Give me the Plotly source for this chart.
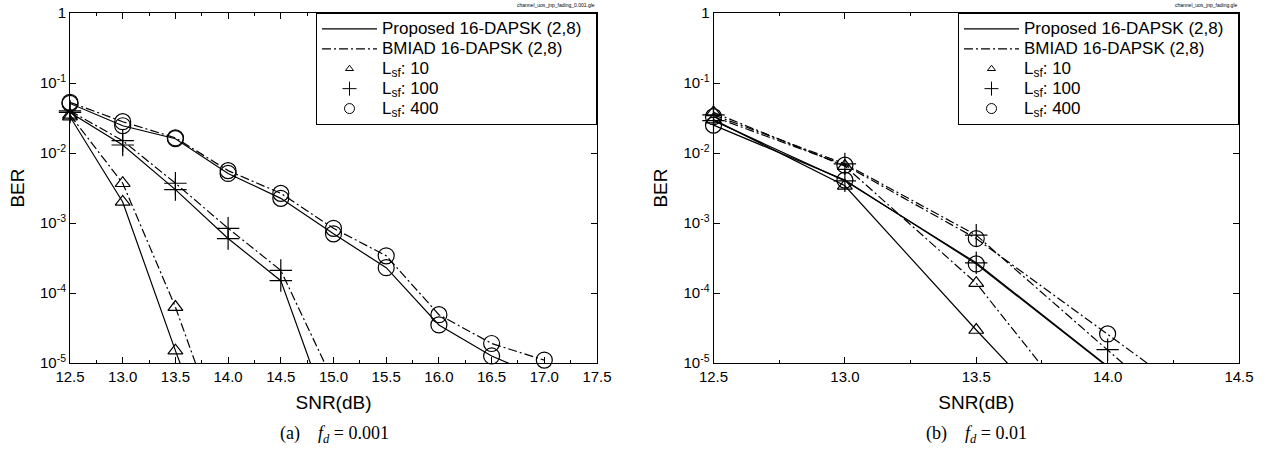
import plotly.graph_objects as go

# ---------------- data ----------------
snr_a = [12.5, 13.0, 13.5, 14.0, 14.5, 15.0, 15.5, 16.0, 16.5, 17.0]
snr_b = [12.5, 13.0, 13.5, 14.0, 14.5]

# (a) f_d = 0.001
prop_a_10 = [3.3e-2, 2.0e-3, 1.5e-5, 1.5e-7]
bmiad_a_10 = [3.5e-2, 3.7e-3, 6.3e-5, 5.0e-7]
prop_a_100 = [3.8e-2, 1.3e-2, 3.0e-3, 6.0e-4, 1.5e-4, 1.2e-6]
bmiad_a_100 = [4.0e-2, 1.5e-2, 3.7e-3, 8.4e-4, 2.1e-4, 5.4e-6]
prop_a_400 = [5.1e-2, 2.45e-2, 1.6e-2, 5.1e-3, 2.25e-3, 7.0e-4, 2.3e-4, 3.5e-5, 1.26e-5, 6.0e-6]
bmiad_a_400 = [5.3e-2, 2.8e-2, 1.65e-2, 5.6e-3, 2.65e-3, 8.4e-4, 3.4e-4, 4.9e-5, 1.9e-5, 1.1e-5]

# (b) f_d = 0.01
prop_b_10 = [3.0e-2, 3.4e-3, 2.96e-5, 3.0e-7]
bmiad_b_10 = [3.8e-2, 6.5e-3, 1.38e-4, 6.0e-7]
prop_b_100 = [2.9e-2, 4.0e-3, 2.7e-4, 9.0e-6]
bmiad_b_100 = [3.5e-2, 7.0e-3, 6.7e-4, 1.55e-5, 3.5e-7]
prop_b_400 = [2.5e-2, 4.1e-3, 2.6e-4, 8.8e-6]
bmiad_b_400 = [3.3e-2, 6.7e-3, 6.0e-4, 2.6e-5, 1.1e-6]

xticks_a = [12.5, 13.0, 13.5, 14.0, 14.5, 15.0, 15.5, 16.0, 16.5, 17.0, 17.5]
xticks_b = [12.5, 13.0, 13.5, 14.0, 14.5]
yticks = [1, 1e-1, 1e-2, 1e-3, 1e-4, 1e-5]
ytick_text = ["1", "10<sup>-1</sup>", "10<sup>-2</sup>", "10<sup>-3</sup>", "10<sup>-4</sup>", "10<sup>-5</sup>"]
legend_names = ["Proposed 16-DAPSK (2,8)", "BMIAD 16-DAPSK (2,8)",
                "L<sub>sf</sub>: 10", "L<sub>sf</sub>: 100", "L<sub>sf</sub>: 400"]
captions = ["(a)&nbsp;&nbsp;&nbsp;&nbsp;<i>f<sub>d</sub></i> = 0.001",
            "(b)&nbsp;&nbsp;&nbsp;&nbsp;<i>f<sub>d</sub></i> = 0.01"]
file_labels = ["channel_uos_jnp_fading_0.001.gle", "channel_uos_jnp_fading.gle"]

# ---------------- layout helpers ----------------
W, H = 1277, 458
L_PX, R_PX, T_PX, B_PX = 70, 1239, 13, 363   # plot frame in reference pixels
ML, MT = L_PX, T_PX
MR = W - R_PX
MB = H - B_PX
PW, PH = W - ML - MR, H - MT - MB
def px(x):
    return (x - ML) / PW
def py(y):
    return (H - MB - y) / PH

YMIN = 1e-5
FONT = "Liberation Sans, Arial, sans-serif"
SOLID = "solid"
DASHDOT = "9px,3px,2px,3px"
SYM = {10: ("triangle-up-open", 13), 100: ("cross-thin-open", 16), 400: ("circle-open", 16)}

fig = go.Figure()

def add_series(x, y, dash, lsf, xa, ya):
    sym, size = SYM[lsf]
    xs = x[:len(y)]
    fig.add_trace(go.Scatter(x=xs, y=y, mode="lines", xaxis=xa, yaxis=ya,
                             line=dict(color="black", width=1.2, dash=dash),
                             showlegend=False, hoverinfo="skip"))
    ym = [v if v >= YMIN * 0.999 else None for v in y]
    fig.add_trace(go.Scatter(x=xs, y=ym, mode="markers", xaxis=xa, yaxis=ya,
                             cliponaxis=False,
                             marker=dict(symbol=sym, size=size, color="black",
                                         line=dict(color="black", width=1.2)),
                             showlegend=False, hoverinfo="skip"))

for xa, ya, x, sets in [
    ("x", "y", snr_a, [(prop_a_10, SOLID, 10), (bmiad_a_10, DASHDOT, 10),
                       (prop_a_100, SOLID, 100), (bmiad_a_100, DASHDOT, 100),
                       (prop_a_400, SOLID, 400), (bmiad_a_400, DASHDOT, 400)]),
    ("x2", "y2", snr_b, [(prop_b_10, SOLID, 10), (bmiad_b_10, DASHDOT, 10),
                         (prop_b_100, SOLID, 100), (bmiad_b_100, DASHDOT, 100),
                         (prop_b_400, SOLID, 400), (bmiad_b_400, DASHDOT, 400)]),
]:
    for y, dash, lsf in sets:
        add_series(x, y, dash, lsf, xa, ya)

def big(t):
    return '<span style="font-size:17px">' + t + '&nbsp;&nbsp;</span>'

# legend entries
for lg, xa, ya in [("legend", "x", "y"), ("legend2", "x2", "y2")]:
    fig.add_trace(go.Scatter(x=[None], y=[None], mode="lines", name=big(legend_names[0]),
                             line=dict(color="black", width=1.2, dash=SOLID),
                             legend=lg, xaxis=xa, yaxis=ya))
    fig.add_trace(go.Scatter(x=[None], y=[None], mode="lines", name=big(legend_names[1]),
                             line=dict(color="black", width=1.2, dash=DASHDOT),
                             legend=lg, xaxis=xa, yaxis=ya))
    for i, lsf in enumerate([10, 100, 400]):
        sym, size = SYM[lsf]
        fig.add_trace(go.Scatter(x=[None], y=[None], mode="markers", name=big(legend_names[2 + i]),
                                 marker=dict(symbol=sym, size=[7, 10, 10][i], color="black",
                                             line=dict(color="black", width=1)),
                                 legend=lg, xaxis=xa, yaxis=ya))

def xaxis_cfg(domain, ticks, anchor):
    return dict(domain=domain, anchor=anchor, range=[ticks[0], ticks[-1]], tickmode="array",
                tickvals=ticks, ticktext=["%.1f" % t for t in ticks],
                ticks="inside", ticklen=6, tickcolor="black", mirror="ticks",
                showline=True, linecolor="black", linewidth=1,
                showgrid=False, zeroline=False, automargin=False,
                minor=dict(tickmode="linear", tick0=ticks[0], dtick=0.25,
                           ticks="inside", ticklen=3, tickcolor="black", showgrid=False),
                tickfont=dict(family=FONT, size=15, color="black"),
                title=dict(text="SNR(dB)", font=dict(family=FONT, size=19, color="black"),
                           standoff=11))

def yaxis_cfg(anchor):
    return dict(domain=[0, 1], type="log", range=[-5, 0], anchor=anchor,
                tickmode="array", tickvals=yticks, ticktext=ytick_text,
                ticks="inside", ticklen=6, tickcolor="black", mirror="ticks",
                showline=True, linecolor="black", linewidth=1,
                showgrid=False, zeroline=False, automargin=False,
                ticklabeloverflow="allow",
                tickfont=dict(family=FONT, size=15, color="black"),
                title=dict(text="BER", font=dict(family=FONT, size=19, color="black"),
                           standoff=10))

legend_common = dict(xref="paper", yref="paper", xanchor="right", yanchor="top",
                     bordercolor="black", borderwidth=1, bgcolor="white",
                     font=dict(family=FONT, size=13, color="black"),
                     tracegroupgap=0, itemwidth=55)

fig.update_layout(
    width=W, height=H, margin=dict(l=ML, r=MR, t=MT, b=MB, autoexpand=False),
    paper_bgcolor="white", plot_bgcolor="white",
    xaxis=xaxis_cfg([px(70), px(597)], xticks_a, "y"),
    xaxis2=xaxis_cfg([px(713.5), px(1239)], xticks_b, "y2"),
    yaxis=yaxis_cfg("x"),
    yaxis2=yaxis_cfg("x2"),
    legend=dict(legend_common, x=px(597), y=py(13)),
    legend2=dict(legend_common, x=px(1239), y=py(13)),
    showlegend=True,
    annotations=[
        dict(text=captions[0], x=px(334), y=py(434), xref="paper", yref="paper",
             xanchor="center", yanchor="middle",
             showarrow=False, font=dict(family="Liberation Serif, serif", size=18, color="black")),
        dict(text=captions[1], x=px(976), y=py(434), xref="paper", yref="paper",
             xanchor="center", yanchor="middle",
             showarrow=False, font=dict(family="Liberation Serif, serif", size=18, color="black")),
        dict(text=file_labels[0], x=px(597), y=py(5), xref="paper", yref="paper",
             xanchor="right", yanchor="middle", showarrow=False,
             font=dict(family=FONT, size=5, color="black")),
        dict(text=file_labels[1], x=px(1239), y=py(5), xref="paper", yref="paper",
             xanchor="right", yanchor="middle", showarrow=False,
             font=dict(family=FONT, size=5, color="black")),
    ],
)

fig.write_html("out.html", config={"displayModeBar": False},
               post_script="document.body.style.margin='0';document.body.style.padding='0';")
